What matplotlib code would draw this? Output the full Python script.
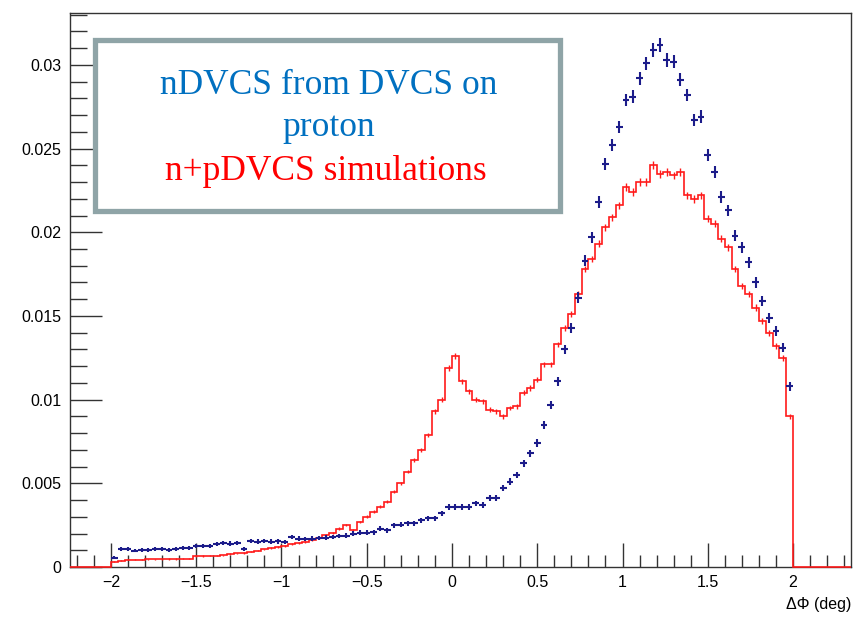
import numpy as np
import matplotlib
matplotlib.use("Agg")
import matplotlib.pyplot as plt
from matplotlib.patches import Rectangle
from matplotlib.ticker import MultipleLocator, FixedLocator

# histogram binning: 100 bins of 0.04 deg between -2 and 2
n_bins = 100
phi_lo, phi_hi = -2.0, 2.0

# n+pDVCS simulation (red histogram)
sim_np = [
    0.00032, 0.00038, 0.00042, 0.00042, 0.00044, 0.00045, 0.00046, 0.00047, 0.00048, 0.00048,
    0.00049, 0.00050, 0.00066, 0.00066, 0.00067, 0.00068, 0.00070, 0.00078, 0.00082, 0.00085,
    0.00092, 0.00098, 0.00105, 0.00112, 0.00120, 0.00127, 0.00135, 0.00142, 0.00152, 0.00161,
    0.00175, 0.00190, 0.00205, 0.00230, 0.00250, 0.00220, 0.00270, 0.00300, 0.00330, 0.00360,
    0.00390, 0.00450, 0.00500, 0.00570, 0.00640, 0.00700, 0.00790, 0.00930, 0.01000, 0.01190,
    0.01260, 0.01110, 0.01050, 0.01000, 0.00990, 0.00940, 0.00930, 0.00900, 0.00950, 0.00960,
    0.01040, 0.01070, 0.01120, 0.01210, 0.01210, 0.01330, 0.01430, 0.01510, 0.01630, 0.01780,
    0.01840, 0.01930, 0.02030, 0.02090, 0.02160, 0.02270, 0.02240, 0.02300, 0.02300, 0.02400,
    0.02350, 0.02360, 0.02340, 0.02360, 0.02220, 0.02200, 0.02220, 0.02080, 0.02050, 0.01960,
    0.01910, 0.01780, 0.01680, 0.01630, 0.01550, 0.01470, 0.01400, 0.01320, 0.01250, 0.00900,
]

# nDVCS from DVCS on proton (blue points)
ndvcs = [
    0.00055, 0.00108, 0.00106, 0.00098, 0.00102, 0.00100, 0.00108, 0.00110, 0.00103, 0.00108,
    0.00112, 0.00114, 0.00125, 0.00128, 0.00124, 0.00135, 0.00145, 0.00140, 0.00142, 0.00110,
    0.00155, 0.00152, 0.00155, 0.00152, 0.00153, 0.00150, 0.00180, 0.00170, 0.00168, 0.00170,
    0.00172, 0.00175, 0.00180, 0.00185, 0.00188, 0.00200, 0.00205, 0.00205, 0.00208, 0.00230,
    0.00220, 0.00250, 0.00252, 0.00260, 0.00262, 0.00280, 0.00290, 0.00290, 0.00320, 0.00360,
    0.00360, 0.00360, 0.00360, 0.00380, 0.00370, 0.00410, 0.00410, 0.00470, 0.00510, 0.00550,
    0.00620, 0.00680, 0.00740, 0.00850, 0.00970, 0.01110, 0.01300, 0.01430, 0.01610, 0.01830,
    0.01970, 0.02180, 0.02410, 0.02520, 0.02630, 0.02790, 0.02810, 0.02920, 0.03010, 0.03090,
    0.03120, 0.03030, 0.03020, 0.02910, 0.02820, 0.02670, 0.02690, 0.02460, 0.02360, 0.02210,
    0.02130, 0.01980, 0.01910, 0.01820, 0.01700, 0.01590, 0.01490, 0.01410, 0.01310, 0.01080,
]

x_ticks = [-2, -1.5, -1, -0.5, 0, 0.5, 1, 1.5, 2]
x_tick_labels = ["\u22122", "\u22121.5", "\u22121", "\u22120.5", "0", "0.5", "1", "1.5", "2"]
y_ticks = [0, 0.005, 0.01, 0.015, 0.02, 0.025, 0.03]
y_tick_labels = ["0", "0.005", "0.01", "0.015", "0.02", "0.025", "0.03"]

x_min, x_max = -2.24, 2.34
y_max = 0.0331

plt.rcParams["font.family"] = ["Liberation Sans", "DejaVu Sans"]

fig = plt.figure(figsize=(8.54, 6.19), dpi=100)
ax = fig.add_axes([0.082, 0.084, 0.9145, 0.895])

edges = np.linspace(phi_lo, phi_hi, n_bins + 1)
centers = 0.5 * (edges[:-1] + edges[1:])
red = np.array(sim_np)
blue = np.array(ndvcs)

# red histogram, with the empty range outside [-2, 2] drawn at zero
full_edges = np.concatenate([[x_min], edges, [x_max]])
full_vals = np.concatenate([[0], red, [0]])
ax.stairs(full_vals, full_edges, color="#ff1a1a", lw=1.2, zorder=4, clip_on=False)
ax.errorbar(centers, red, yerr=0.0015 * np.sqrt(red), fmt="none",
            ecolor="#ff1a1a", elinewidth=1.0, capsize=0, zorder=4)

# blue points with error bars
ax.errorbar(centers, blue, xerr=0.02, yerr=0.002 * np.sqrt(blue) + 0.00005, fmt="none",
            ecolor="#1c1c8a", elinewidth=1.5, capsize=0, zorder=5)

ax.set_xlim(x_min, x_max)
ax.set_ylim(0, y_max)

ax.xaxis.set_major_locator(FixedLocator(x_ticks))
ax.set_xticklabels(x_tick_labels)
ax.xaxis.set_minor_locator(MultipleLocator(0.1))
ax.yaxis.set_major_locator(FixedLocator(y_ticks))
ax.set_yticklabels(y_tick_labels)
ax.yaxis.set_minor_locator(MultipleLocator(0.001))

ax.tick_params(axis="x", which="major", direction="in", length=17, width=1,
               color="#333333", labelsize=11.5, pad=6)
ax.tick_params(axis="x", which="minor", direction="in", length=8.5, width=1, color="#333333")
ax.tick_params(axis="y", which="major", direction="in", length=23, width=1,
               color="#333333", labelsize=11.5, pad=6)
ax.tick_params(axis="y", which="minor", direction="in", length=12, width=1, color="#333333")
for s in ax.spines.values():
    s.set_color("#333333")
    s.set_linewidth(1.0)

fig.text(0.9965, 0.012, "\u0394\u03a6 (deg)", ha="right", va="bottom", fontsize=11.5)

# annotation box
box = Rectangle((95 / 854, 1 - 211 / 619), (560 - 95) / 854, (211 - 40) / 619,
                transform=fig.transFigure, facecolor="white", edgecolor="#8fa4a7",
                lw=3.8, zorder=10)
fig.patches.append(box)
serif = ["Liberation Serif", "DejaVu Serif"]
fig.text(329 / 854, 1 - 85 / 619, "nDVCS from DVCS on", color="#0070c0", fontsize=25.5,
         family=serif, ha="center", va="center", zorder=11)
fig.text(329 / 854, 1 - 128 / 619, "proton", color="#0070c0", fontsize=25.5,
         family=serif, ha="center", va="center", zorder=11)
fig.text(326 / 854, 1 - 171 / 619, "n+pDVCS simulations", color="#ff0000", fontsize=25.5,
         family=serif, ha="center", va="center", zorder=11)

fig.savefig("out.png", dpi=100)
